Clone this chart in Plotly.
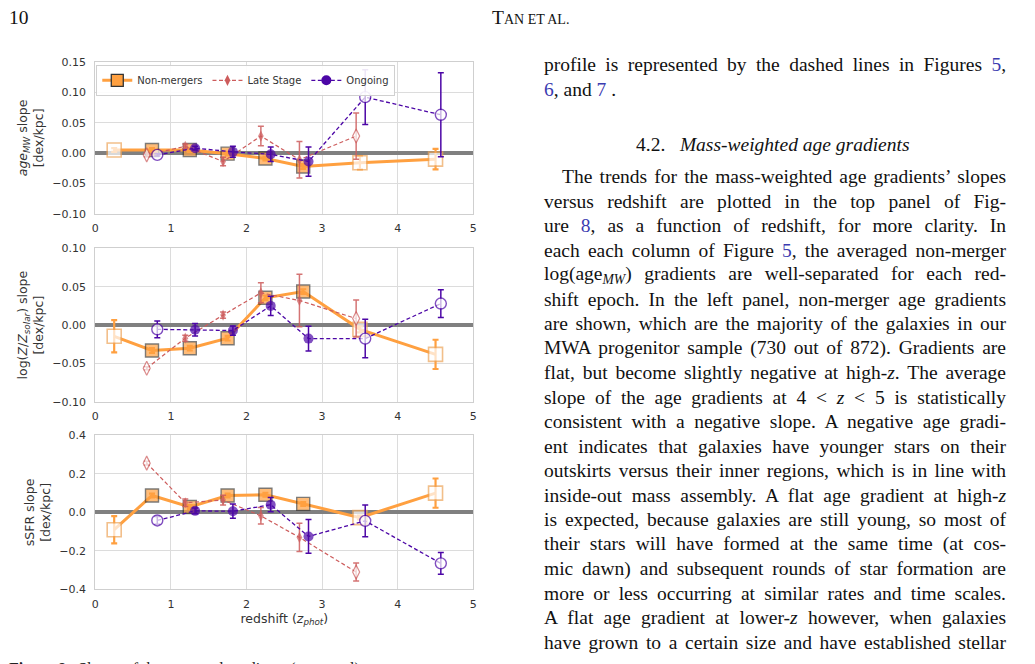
import json
import plotly.graph_objects as go

# ---------------- data ----------------
z_nm = [0.25, 0.75, 1.25, 1.75, 2.25, 2.75, 3.5, 4.5]
z_ls = [0.68, 1.19, 1.69, 2.19, 2.70, 3.45]
z_on = [0.82, 1.32, 1.82, 2.32, 2.82, 3.57, 4.57]

open_nm = [True, False, False, False, False, False, True, True]
open_ls = [True, False, False, False, False, True]
open_on = [True, False, False, False, False, True, True]

# panel 1: mass-weighted age slope
nm_age = [0.005, 0.005, 0.005, -0.001, -0.009, -0.022, -0.016, -0.010]
nm_age_err = [0.003, 0.003, 0.003, 0.003, 0.003, 0.004, 0.011, 0.017]
ls_age = [-0.003, 0.011, -0.014, 0.028, -0.011, 0.028]
ls_age_err = [0.003, 0.004, 0.007, 0.016, 0.030, 0.038]
on_age = [-0.003, 0.008, 0.002, -0.002, -0.014, 0.092, 0.063]
on_age_err = [0.002, 0.003, 0.009, 0.012, 0.024, 0.045, 0.069]

# panel 2: metallicity slope
nm_z = [-0.0145, -0.033, -0.030, -0.017, 0.0355, 0.0436, -0.0055, -0.038]
nm_z_err = [0.021, 0.003, 0.003, 0.003, 0.003, 0.003, 0.004, 0.019]
ls_z = [-0.056, -0.017, 0.013, 0.042, 0.032, 0.0085]
ls_z_err = [0.002, 0.004, 0.004, 0.013, 0.034, 0.024]
on_z = [-0.0055, -0.006, -0.007, 0.025, -0.0175, -0.0175, 0.028]
on_z_err = [0.011, 0.008, 0.006, 0.0125, 0.016, 0.025, 0.018]

# panel 3: sSFR slope
nm_s = [-0.09, 0.088, 0.028, 0.088, 0.092, 0.044, -0.027, 0.10]
nm_s_err = [0.071, 0.01, 0.01, 0.01, 0.01, 0.01, 0.01, 0.076]
ls_s = [0.256, 0.05, 0.064, -0.018, -0.13, -0.31]
ls_s_err = [0.01, 0.02, 0.025, 0.043, 0.073, 0.047]
on_s = [-0.042, 0.008, 0.006, 0.04, -0.125, -0.044, -0.265]
on_s_err = [0.02, 0.015, 0.037, 0.037, 0.088, 0.082, 0.056]

x_ticks = [0, 1, 2, 3, 4, 5]
y1_ticks = [0.15, 0.10, 0.05, 0.00, -0.05, -0.10]
y2_ticks = [0.10, 0.05, 0.00, -0.05, -0.10]
y3_ticks = [0.4, 0.2, 0.0, -0.2, -0.4]

series_names = ["Non-mergers", "Late Stage", "Ongoing"]

text_lines = [
    "profile is represented by the dashed lines in Figures <L>5</L>,",
    "<L>6</L>, and <L>7</L> .",
]
body_lines = [
    "The trends for the mass-weighted age gradients\u2019 slopes",
    "versus redshift are plotted in the top panel of Fig-",
    "ure <L>8</L>, as a function of redshift, for more clarity. In",
    "each each column of Figure <L>5</L>, the averaged non-merger",
    "log(age<sub><i>MW</i></sub>) gradients are well-separated for each red-",
    "shift epoch. In the left panel, non-merger age gradients",
    "are shown, which are the majority of the galaxies in our",
    "MWA progenitor sample (730 out of 872). Gradients are",
    "flat, but become slightly negative at high-<i>z</i>. The average",
    "slope of the age gradients at 4 &lt; <i>z</i> &lt; 5 is statistically",
    "consistent with a negative slope. A negative age gradi-",
    "ent indicates that galaxies have younger stars on their",
    "outskirts versus their inner regions, which is in line with",
    "inside-out mass assembly. A flat age gradient at high-<i>z</i>",
    "is expected, because galaxies are still young, so most of",
    "their stars will have formed at the same time (at cos-",
    "mic dawn) and subsequent rounds of star formation are",
    "more or less occurring at similar rates and time scales.",
    "A flat age gradient at lower-<i>z</i> however, when galaxies",
    "have grown to a certain size and have established stellar",
]

# ---------------- style ----------------
W, H = 1035, 664
ORANGE = "#ffa040"
ORANGE_OPEN = "#eda55a"
RED = "#cd5c5c"
PURPLE = "#4c06a6"
LINK = "#3b3bb0"
SERIF = "Liberation Serif"
SANS = "DejaVu Sans"
COL_L, COL_R, INDENT = 543, 1005, 561

def px_x(x):
    return x / W

def px_y(y):
    return 1 - y / H

fig = go.Figure()

panels = [
    (nm_age, nm_age_err, ls_age, ls_age_err, on_age, on_age_err),
    (nm_z, nm_z_err, ls_z, ls_z_err, on_z, on_z_err),
    (nm_s, nm_s_err, ls_s, ls_s_err, on_s, on_s_err),
]

for i, (nmy, nme, lsy, lse, ony, one) in enumerate(panels):
    xa = "x" if i == 0 else f"x{i+1}"
    ya = "y" if i == 0 else f"y{i+1}"
    fig.add_trace(go.Scatter(
        x=z_nm, y=nmy, xaxis=xa, yaxis=ya, mode="lines+markers", showlegend=False,
        line=dict(color=ORANGE, width=3),
        marker=dict(symbol="square", size=[14 if o else 13 for o in open_nm],
                    color=["white" if o else ORANGE for o in open_nm],
                    line=dict(color=[ORANGE_OPEN if o else "rgba(40,40,40,0.85)" for o in open_nm],
                              width=[1.6 if o else 1.4 for o in open_nm])),
        error_y=dict(type="data", array=nme, color=ORANGE, thickness=2.2, width=3),
    ))
    fig.add_trace(go.Scatter(
        x=z_ls, y=lsy, xaxis=xa, yaxis=ya, mode="lines+markers", showlegend=False,
        line=dict(color=RED, width=1.2, dash="4px,2.5px"),
        marker=dict(symbol="diamond-tall", size=[10 if o else 8 for o in open_ls],
                    color=["white" if o else RED for o in open_ls],
                    line=dict(color=RED, width=[1.2 if o else 0 for o in open_ls])),
        error_y=dict(type="data", array=lse, color="rgba(205,92,92,0.85)", thickness=1.5, width=3),
    ))
    fig.add_trace(go.Scatter(
        x=z_on, y=ony, xaxis=xa, yaxis=ya, mode="lines+markers", showlegend=False,
        line=dict(color=PURPLE, width=1.3, dash="4px,2.5px"),
        marker=dict(symbol="circle", size=[11 if o else 10 for o in open_on],
                    color=["white" if o else PURPLE for o in open_on],
                    line=dict(color=PURPLE, width=[1.4 if o else 0 for o in open_on])),
        error_y=dict(type="data", array=one, color=PURPLE, thickness=1.5, width=3),
    ))

# legend entries
fig.add_trace(go.Scatter(x=[None], y=[None], mode="lines+markers", name=series_names[0],
                         line=dict(color=ORANGE, width=3),
                         marker=dict(symbol="square", size=12, color=ORANGE,
                                     line=dict(color="#333", width=1.3))))
fig.add_trace(go.Scatter(x=[None], y=[None], mode="lines+markers", name=series_names[1],
                         line=dict(color=RED, width=1.2, dash="4px,2.5px"),
                         marker=dict(symbol="diamond-tall", size=8, color=RED)))
fig.add_trace(go.Scatter(x=[None], y=[None], mode="lines+markers", name=series_names[2],
                         line=dict(color=PURPLE, width=1.3, dash="4px,2.5px"),
                         marker=dict(symbol="circle", size=10, color=PURPLE)))

x0, x1 = px_x(92), px_x(473)
doms = [(px_y(212), px_y(57)), (px_y(404), px_y(247)), (px_y(595), px_y(438))]
ranges = [(-0.10, 0.15), (-0.10, 0.10), (-0.4, 0.4)]
yticks = [y1_ticks, y2_ticks, y3_ticks]
fmts = [".2f", ".2f", ".1f"]
ytitles = [
    "<i>age<sub>MW</sub></i> slope<br>[dex/kpc]",
    "log(<i>Z</i>/<i>Z<sub>solar</sub></i>) slope<br>[dex/kpc]",
    "sSFR slope<br>[dex/kpc]",
]

axis_common = dict(showline=True, linecolor="#cfcfcf", linewidth=1, mirror=True,
                   showgrid=True, gridcolor="#dcdcdc", gridwidth=1, ticks="",
                   tickfont=dict(family=SANS, size=11, color="#333"))

layout = dict(
    width=W, height=H, margin=dict(l=0, r=0, t=0, b=0),
    paper_bgcolor="white", plot_bgcolor="white",
    showlegend=True,
    legend=dict(orientation="h", x=px_x(93), y=px_y(60), xanchor="left", yanchor="top",
                bgcolor="rgba(255,255,255,0.9)", bordercolor="#d0d0d0", borderwidth=1,
                font=dict(family=SANS, size=10, color="#333"), itemwidth=30,
                tracegroupgap=0),
)
for i in range(3):
    xk = "xaxis" if i == 0 else f"xaxis{i+1}"
    yk = "yaxis" if i == 0 else f"yaxis{i+1}"
    ya = "y" if i == 0 else f"y{i+1}"
    xa = "x" if i == 0 else f"x{i+1}"
    layout[xk] = dict(axis_common, domain=[x0, x1], range=[0, 5], anchor=ya,
                      tickvals=x_ticks, zeroline=False, ticklabelstandoff=4)
    layout[yk] = dict(axis_common, domain=list(doms[i]), range=list(ranges[i]), anchor=xa,
                      tickvals=yticks[i], tickformat=fmts[i], ticklabelstandoff=6,
                      zeroline=True, zerolinecolor="#808080", zerolinewidth=4,
                      title=dict(text=ytitles[i], font=dict(family=SANS, size=12.5, color="#333"),
                                 standoff=5))
layout["xaxis3"]["title"] = dict(text="redshift (<i>z<sub>phot</sub></i>)",
                                 font=dict(family=SANS, size=12.5, color="#333"), standoff=4)
fig.update_layout(**layout)

# ---------------- page text ----------------
def linkify(s):
    return s.replace("<L>", f"<span style='color:{LINK}'>").replace("</L>", "</span>")

ann = []
justify = {}  # annotation index -> target line width (px)
ann.append(dict(text="10", x=px_x(4), y=px_y(12), xanchor="left", yanchor="middle"))
ann.append(dict(text="T<span style='font-size:14px'>AN ET AL.</span>", x=px_x(531), y=px_y(12),
                xanchor="center", yanchor="middle"))
for k, s in enumerate(text_lines):
    if k == 0:
        justify[len(ann)] = COL_R - COL_L
    ann.append(dict(text=linkify(s), x=px_x(COL_L), y=px_y(60 + 25 * k), xanchor="left",
                    yanchor="middle", align="left"))
ann.append(dict(text="4.2.   <i>Mass-weighted age gradients</i>", x=px_x(775), y=px_y(141),
                xanchor="center", yanchor="middle"))
for k, s in enumerate(body_lines):
    xs = INDENT if k == 0 else COL_L
    justify[len(ann)] = COL_R - xs
    ann.append(dict(text=linkify(s), x=px_x(xs), y=px_y(174 + 25 * k), xanchor="left",
                    yanchor="middle", align="left"))
ann.append(dict(text="<b>Figure 8.</b>  Slopes of the averaged gradients (top panel)",
                x=px_x(4), y=px_y(676), xanchor="left", yanchor="middle",
                font=dict(family=SERIF, size=16, color="#222")))

for a in ann:
    a.setdefault("font", dict(family=SERIF, size=19.5, color="#111"))
    a.update(xref="paper", yref="paper", showarrow=False, borderpad=0)
fig.update_layout(annotations=ann)

# justify the running-text lines (word spacing) like the typeset page
post_js = """
document.body.style.margin='0px';
(function(){
  var targets = %s;
  function run(){
    document.querySelectorAll('g.annotation').forEach(function(g){
      var i = g.getAttribute('data-index');
      if (targets[i] === undefined) return;
      var t = g.querySelector('text.annotation-text');
      if (!t) return;
      t.style.wordSpacing = '0px';
      var n = (t.textContent.match(/ /g) || []).length;
      var L = t.getComputedTextLength();
      if (n > 0) t.style.wordSpacing = ((targets[i] - L) / n) + 'px';
    });
  }
  run();
  if (document.fonts && document.fonts.ready) document.fonts.ready.then(run);
})();
""" % json.dumps({str(k): v for k, v in justify.items()})

fig.write_html("out.html", post_script=post_js)
